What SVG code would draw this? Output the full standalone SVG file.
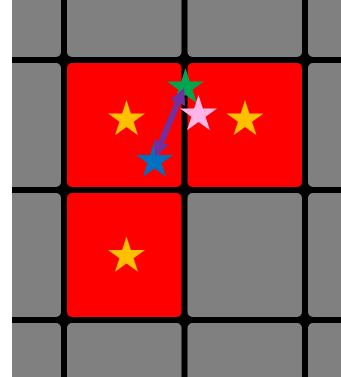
<svg xmlns="http://www.w3.org/2000/svg" width="341" height="377" viewBox="0 0 341 377">
  <style>
    .cell { fill: #808080; }
    .on { fill: #FF0000; }
    .dot { fill: #000000; }
    .link { fill: none; stroke: #7030A0; stroke-width: 6; }
  </style>
  <defs>
    <clipPath id="view"><rect x="12" y="0" width="329" height="377"/></clipPath>
    <path id="star" d="M0,-19.5 L4.38,-6.03 L18.55,-6.03 L7.08,2.30 L11.46,15.78 L0,7.45 L-11.46,15.78 L-7.08,2.30 L-18.55,-6.03 L-4.38,-6.03 Z"/>
    <marker id="head" markerUnits="userSpaceOnUse" markerWidth="16" markerHeight="16" refX="0" refY="8" orient="auto-start-reverse" viewBox="0 0 16 16">
      <path d="M0,0 L16,8 L0,16 Z" fill="#7030A0"/>
    </marker>
  </defs>
  <rect width="341" height="377" fill="#FFFFFF"/>
  <g id="grid" clip-path="url(#view)">
    <rect x="12" y="0" width="329" height="377" fill="#000000"/>
    <g id="row0">
      <rect class="cell" x="-60" y="-80" width="121" height="137" rx="5"/>
      <rect class="cell" x="67" y="-80" width="114.5" height="137" rx="5"/>
      <rect class="cell" x="187.5" y="-80" width="114.5" height="137" rx="5"/>
      <rect class="cell" x="308" y="-80" width="114.5" height="137" rx="5"/>
    </g>
    <g id="row1">
      <rect class="cell" x="-60" y="63" width="121" height="124" rx="5"/>
      <rect id="cell-1-1" class="on" x="67" y="63" width="114.5" height="124" rx="5"/>
      <rect id="cell-1-2" class="on" x="187.5" y="63" width="114.5" height="124" rx="5"/>
      <rect class="cell" x="308" y="63" width="114.5" height="124" rx="5"/>
    </g>
    <g id="row2">
      <rect class="cell" x="-60" y="193" width="121" height="124" rx="5"/>
      <rect id="cell-2-1" class="on" x="67" y="193" width="114.5" height="124" rx="5"/>
      <rect class="cell" x="187.5" y="193" width="114.5" height="124" rx="5"/>
      <rect class="cell" x="308" y="193" width="114.5" height="124" rx="5"/>
    </g>
    <g id="row3">
      <rect class="cell" x="-60" y="323" width="121" height="124" rx="5"/>
      <rect class="cell" x="67" y="323" width="114.5" height="124" rx="5"/>
      <rect class="cell" x="187.5" y="323" width="114.5" height="124" rx="5"/>
      <rect class="cell" x="308" y="323" width="114.5" height="124" rx="5"/>
    </g>
    <g id="joints">
      <circle class="dot" cx="64" cy="60" r="6"/>
      <circle class="dot" cx="184.5" cy="60" r="6"/>
      <circle class="dot" cx="305" cy="60" r="6"/>
      <circle class="dot" cx="64" cy="190" r="6"/>
      <circle class="dot" cx="184.5" cy="190" r="6"/>
      <circle class="dot" cx="305" cy="190" r="6"/>
      <circle class="dot" cx="64" cy="320" r="6"/>
      <circle class="dot" cx="184.5" cy="320" r="6"/>
      <circle class="dot" cx="305" cy="320" r="6"/>
    </g>
  </g>
  <g id="star-gold-1"><use href="#star" x="126.5" y="119.5" fill="#FFC000"/></g>
  <g id="star-gold-2"><use href="#star" x="245" y="119.5" fill="#FFC000"/></g>
  <g id="star-gold-3"><use href="#star" x="126.5" y="256" fill="#FFC000"/></g>
  <g id="star-green"><use href="#star" x="185.5" y="87.5" fill="#00A550"/></g>
  <g id="star-pink"><use href="#star" x="198.5" y="114.5" fill="#FFB5E8"/></g>
  <g id="star-blue"><use href="#star" x="154.5" y="161" fill="#0070C0"/></g>
  <g id="connectors">
    <path class="link" d="M161.2,142.2 L177.8,102.8" marker-start="url(#head)" marker-end="url(#head)"/>
  </g>
</svg>
